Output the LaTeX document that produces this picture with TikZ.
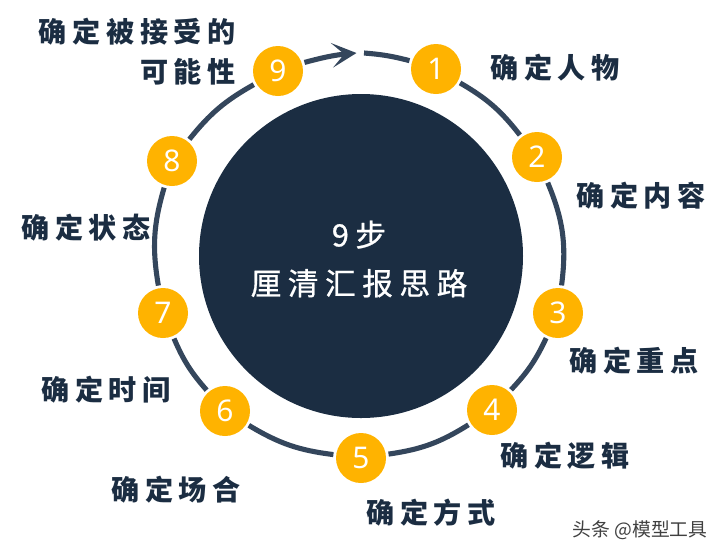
\documentclass[tikz,border=0pt]{standalone}
\usepackage{fontspec}
\setmainfont{Noto Sans}
\newfontfamily\cjk[LetterSpace=20]{Noto Sans CJK SC}
\newfontfamily\cjktitle[LetterSpace=21,FakeBold=0.7]{Noto Sans CJK SC}
\newfontfamily\cjkplain{Noto Sans CJK SC}
\usetikzlibrary{arrows.meta}
\definecolor{navy}{HTML}{1B2D42}
\definecolor{ring}{HTML}{34465C}
\definecolor{gold}{HTML}{FFB300}
\begin{document}
\begin{tikzpicture}[x=0.02cm,y=-0.02cm,
	vtx/.style={circle, fill=gold, text=white, minimum size=50*0.02cm, inner sep=0pt, outer sep=1.6pt, font=\fontsize{17}{17}\selectfont},
	lbl/.style={inner sep=0pt, text=navy, font=\cjk\bfseries\fontsize{16}{22.7}\selectfont},
	seg/.style={draw=ring, line width=2.9pt}]
\useasboundingbox (0,0) rectangle (724,556);
\node[circle, fill=navy, minimum size=324*0.02cm, inner sep=0pt] (hub) at (361,256) {};
\foreach \i/\x/\y in {1/436/69,2/537/157,3/558/313,4/492/410,5/361/458,6/225/411,7/163/313,8/172/161,9/278/71}{\node[vtx] (\i) at (\x,\y){\i};}
\foreach \i/\j/\b in {1/2/11,2/3/15,3/4/9,4/5/12,5/6/12,6/7/9,7/8/13,8/9/11}{\draw[seg] (\i) to [bend left=\b] (\j);}
\coordinate (tip) at (356.5,53);
\coordinate (start) at (364,53);
\draw[seg, -{Stealth[length=14pt, width=14pt, inset=7pt]}] (9) to [bend left=5] (tip);
\draw[seg] (start) to [bend left=5] (1);
\node[lbl, text=white, align=center, font=\cjktitle\fontsize{17.5}{27.6}\selectfont] (title) at (359,259) {9步\\厘清汇报思路};
\node[lbl, align=right, anchor=north east] (t9) at (236,18) {确定被接受的\\可能性};
\node[lbl] (t1) at (555,68) {确定人物};
\node[lbl] (t2) at (641,196) {确定内容};
\node[lbl] (t3) at (634,361) {确定重点};
\node[lbl] (t4) at (565,456) {确定逻辑};
\node[lbl] (t5) at (431,513) {确定方式};
\node[lbl] (t6) at (176,490) {确定场合};
\node[lbl] (t7) at (106,390) {确定时间};
\node[lbl] (t8) at (86,228) {确定状态};
\node[inner sep=0pt, text=black!75, font=\cjkplain\fontsize{10.7}{12}\selectfont] (mark) at (640,530) {头条 @模型工具};
\end{tikzpicture}
\end{document}
